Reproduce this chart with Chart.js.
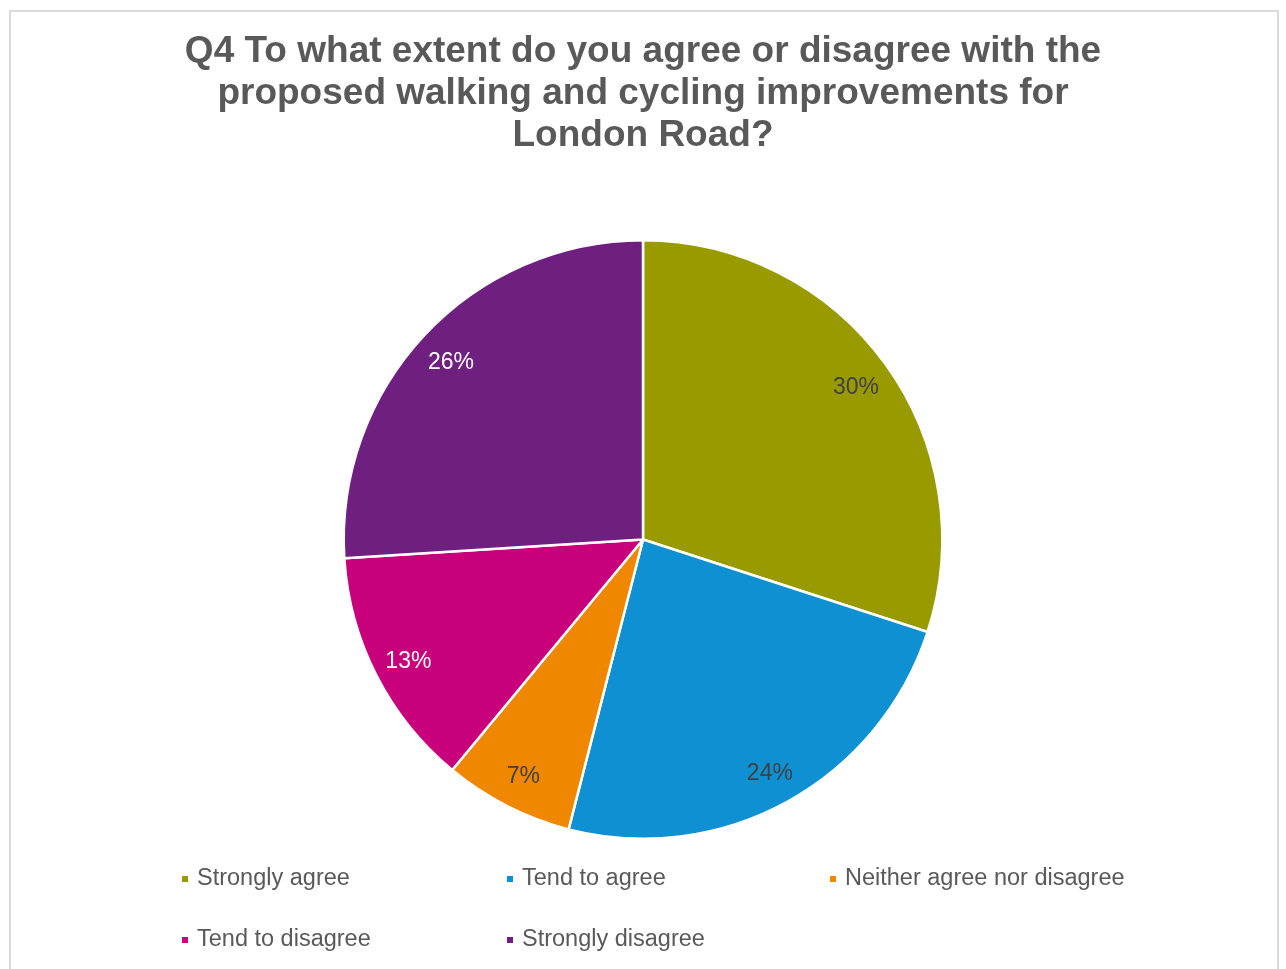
<!DOCTYPE html>
<html lang="en">
<head>
  <meta charset="UTF-8" />
  <title>Q4 London Road</title>
  <style>
    body { margin: 0; background: #ffffff; }
    canvas { display: block; }
  </style>
  <script src="https://cdn.jsdelivr.net/npm/chart.js"></script>
</head>
<body>
  <canvas id="pie" width="1286" height="969"></canvas>

  <script>
    // данные с картинки
    const categories = ['Strongly agree', 'Tend to agree', 'Neither agree nor disagree', 'Tend to disagree', 'Strongly disagree'];
    const shares = [30, 24, 7, 13, 26];
    const sliceColors = ['#999a00', '#0f90d2', '#ef8800', '#c8007b', '#6f1f80'];
    const labelColors = ['#404040', '#404040', '#404040', '#ffffff', '#ffffff'];

    const fontFamily = '"Liberation Sans", Arial, sans-serif';

    // рамка вокруг графика
    const frame = {
      id: 'frame',
      beforeDraw(chart) {
        const ctx = chart.ctx;
        ctx.save();
        ctx.strokeStyle = '#d9d9d9';
        ctx.lineWidth = 2;
        ctx.strokeRect(10, 11, 1268, 1000);
        ctx.restore();
      }
    };

    // подписи процентов внутри секторов
    const sliceLabels = {
      id: 'sliceLabels',
      afterDatasetsDraw(chart) {
        const ctx = chart.ctx;
        const meta = chart.getDatasetMeta(0);
        ctx.save();
        ctx.font = '23px ' + fontFamily;
        ctx.textAlign = 'center';
        ctx.textBaseline = 'middle';
        meta.data.forEach((arc, i) => {
          const mid = (arc.startAngle + arc.endAngle) / 2;
          const r = arc.outerRadius * 0.88;
          ctx.fillStyle = labelColors[i];
          ctx.fillText(shares[i] + '%', arc.x + Math.cos(mid) * r, arc.y + Math.sin(mid) * r + 3);
        });
        ctx.restore();
      }
    };

    // легенда в три колонки
    const gridLegend = {
      id: 'gridLegend',
      afterDraw(chart) {
        const ctx = chart.ctx;
        const colX = [182, 507, 830];
        const rowY = [879, 940];
        ctx.save();
        ctx.font = '23.5px ' + fontFamily;
        ctx.textBaseline = 'middle';
        ctx.textAlign = 'left';
        categories.forEach((name, i) => {
          const x = colX[i % 3];
          const y = rowY[Math.floor(i / 3)];
          ctx.fillStyle = sliceColors[i];
          ctx.fillRect(x, y - 3, 6, 6);
          ctx.fillStyle = '#595959';
          ctx.fillText(name, x + 15, y);
        });
        ctx.restore();
      }
    };

    const ctx = document.getElementById('pie').getContext('2d');
    new Chart(ctx, {
      type: 'pie',
      data: {
        labels: categories,
        datasets: [{
          data: shares,
          backgroundColor: sliceColors,
          borderColor: '#ffffff',
          borderWidth: 2.5
        }]
      },
      options: {
        responsive: false,
        animation: false,
        layout: { padding: { top: 0, bottom: 129, left: 0, right: 0 } },
        plugins: {
          legend: { display: false },
          tooltip: { enabled: false },
          title: {
            display: true,
            text: [
              'Q4 To what extent do you agree or disagree with the',
              'proposed walking and cycling improvements for',
              'London Road?'
            ],
            color: '#595959',
            font: { family: fontFamily, size: 37, weight: 'bold', lineHeight: 1.135 },
            padding: { top: 31, bottom: 82 }
          }
        }
      },
      plugins: [frame, sliceLabels, gridLegend]
    });
  </script>
</body>
</html>
